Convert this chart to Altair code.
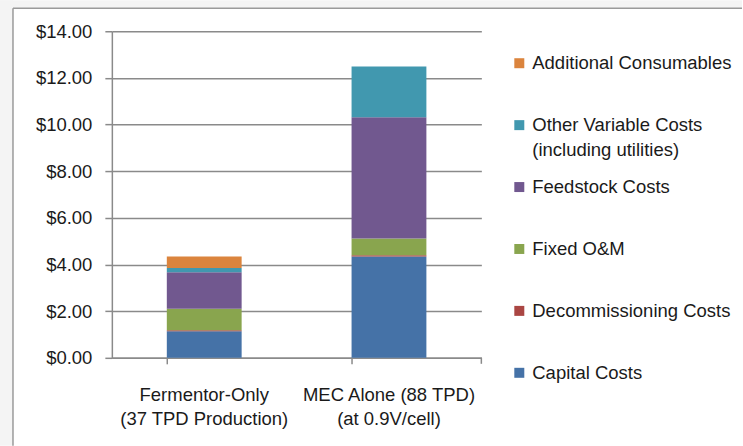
import altair as alt
import pandas as pd

# ---- data ----
categories = ["Fermentor-Only\n(37 TPD Production)", "MEC Alone (88 TPD)\n(at 0.9V/cell)"]
components = [
    "Capital Costs",
    "Decommissioning Costs",
    "Fixed O&M",
    "Feedstock Costs",
    "Other Variable Costs\n(including utilities)",
    "Additional Consumables",
]
fermentor_values = [1.14, 0.04, 0.92, 1.57, 0.18, 0.49]
mec_values = [4.34, 0.06, 0.72, 5.19, 2.18, 0.00]
colors = ["#4572A7", "#AA4643", "#89A54E", "#71588F", "#4198AF", "#DB843D"]
y_ticks = [0, 2, 4, 6, 8, 10, 12, 14]

rows = []
for cat, vals in zip(categories, [fermentor_values, mec_values]):
    for i, (comp, v) in enumerate(zip(components, vals)):
        rows.append({"category": cat, "component": comp, "value": v, "order": i})
df = pd.DataFrame(rows)

legend_order = list(reversed(components))
legend_df = pd.DataFrame({"component": legend_order})

FONT = "Liberation Sans"
GRID = "#8a8a8a"
OUTSIDE = "#f4f4f4"
FS = 18.5

color_scale = alt.Scale(domain=components, range=colors)

# decorative chart-area surroundings and border
frame_df = pd.DataFrame({"k": [0]})
strip_top = alt.Chart(frame_df).mark_rect(color=OUTSIDE).encode(
    x=alt.value(-112), x2=alt.value(631), y=alt.value(-31), y2=alt.value(-23)
)
strip_left = alt.Chart(frame_df).mark_rect(color=OUTSIDE).encode(
    x=alt.value(-112), x2=alt.value(-99), y=alt.value(-31), y2=alt.value(415)
)
border_left = alt.Chart(frame_df).mark_rule(color="#9a9a9a", strokeWidth=1.5).encode(
    x=alt.value(-99), y=alt.value(-23), y2=alt.value(415)
)
border_top = alt.Chart(frame_df).mark_rule(color="#9a9a9a", strokeWidth=1.5).encode(
    x=alt.value(-99), x2=alt.value(631), y=alt.value(-23)
)
end_tick = alt.Chart(frame_df).mark_rule(color=GRID, strokeWidth=1.5).encode(
    x=alt.value(370), y=alt.value(327), y2=alt.value(333)
)

bars = alt.Chart(df).mark_bar().encode(
    x=alt.X(
        "category:N",
        sort=categories,
        scale=alt.Scale(paddingInner=0.595, paddingOuter=0.2975),
        axis=alt.Axis(
            title=None,
            labelAngle=0,
            labelExpr="split(datum.label, '\\n')",
            labelFont=FONT,
            labelFontSize=FS,
            labelColor="#1a1a1a",
            labelLineHeight=24,
            labelPadding=22,
            labelBaseline="top",
            labelLimit=300,
            bandPosition=0,
            tickSize=6,
            tickColor=GRID,
            tickWidth=1.5,
            domainColor=GRID,
            domainWidth=1.5,
            grid=False,
        ),
    ),
    y=alt.Y(
        "value:Q",
        stack="zero",
        scale=alt.Scale(domain=[0, 14], nice=False),
        axis=alt.Axis(
            title=None,
            values=y_ticks,
            format="$,.2f",
            labelFont=FONT,
            labelFontSize=FS,
            labelColor="#1a1a1a",
            labelPadding=13,
            tickSize=7,
            tickColor=GRID,
            tickWidth=1.5,
            domainColor=GRID,
            domainWidth=1.5,
            grid=True,
            gridColor=GRID,
            gridWidth=1.5,
        ),
    ),
    color=alt.Color("component:N", scale=color_scale, legend=None),
    order=alt.Order("order:Q", sort="ascending"),
)

legend_y = alt.Y(
    "component:N",
    sort=legend_order,
    scale=alt.Scale(type="point", domain=legend_order, range=[32, 342], padding=0),
    axis=None,
)
legend_squares = alt.Chart(legend_df).mark_square(size=100, opacity=1).encode(
    x=alt.value(408),
    y=legend_y,
    color=alt.Color("component:N", scale=color_scale, legend=None),
)
legend_text = alt.Chart(legend_df).mark_text(
    align="left", baseline="top", dy=-9, lineBreak="\n", lineHeight=25,
    font=FONT, fontSize=FS, color="#1a1a1a",
).encode(
    x=alt.value(421),
    y=legend_y,
    text="component:N",
)

chart = (
    alt.layer(strip_top, strip_left, border_left, border_top, end_tick, bars,
              legend_squares, legend_text)
    .resolve_scale(y="independent", x="independent")
    .properties(
        width=370,
        height=327,
        padding={"left": 0, "top": 0, "right": 0, "bottom": 0},
        background="white",
    )
    .configure_view(stroke=None)
)

chart.save("out.html", embed_options={"renderer": "svg", "actions": False})
